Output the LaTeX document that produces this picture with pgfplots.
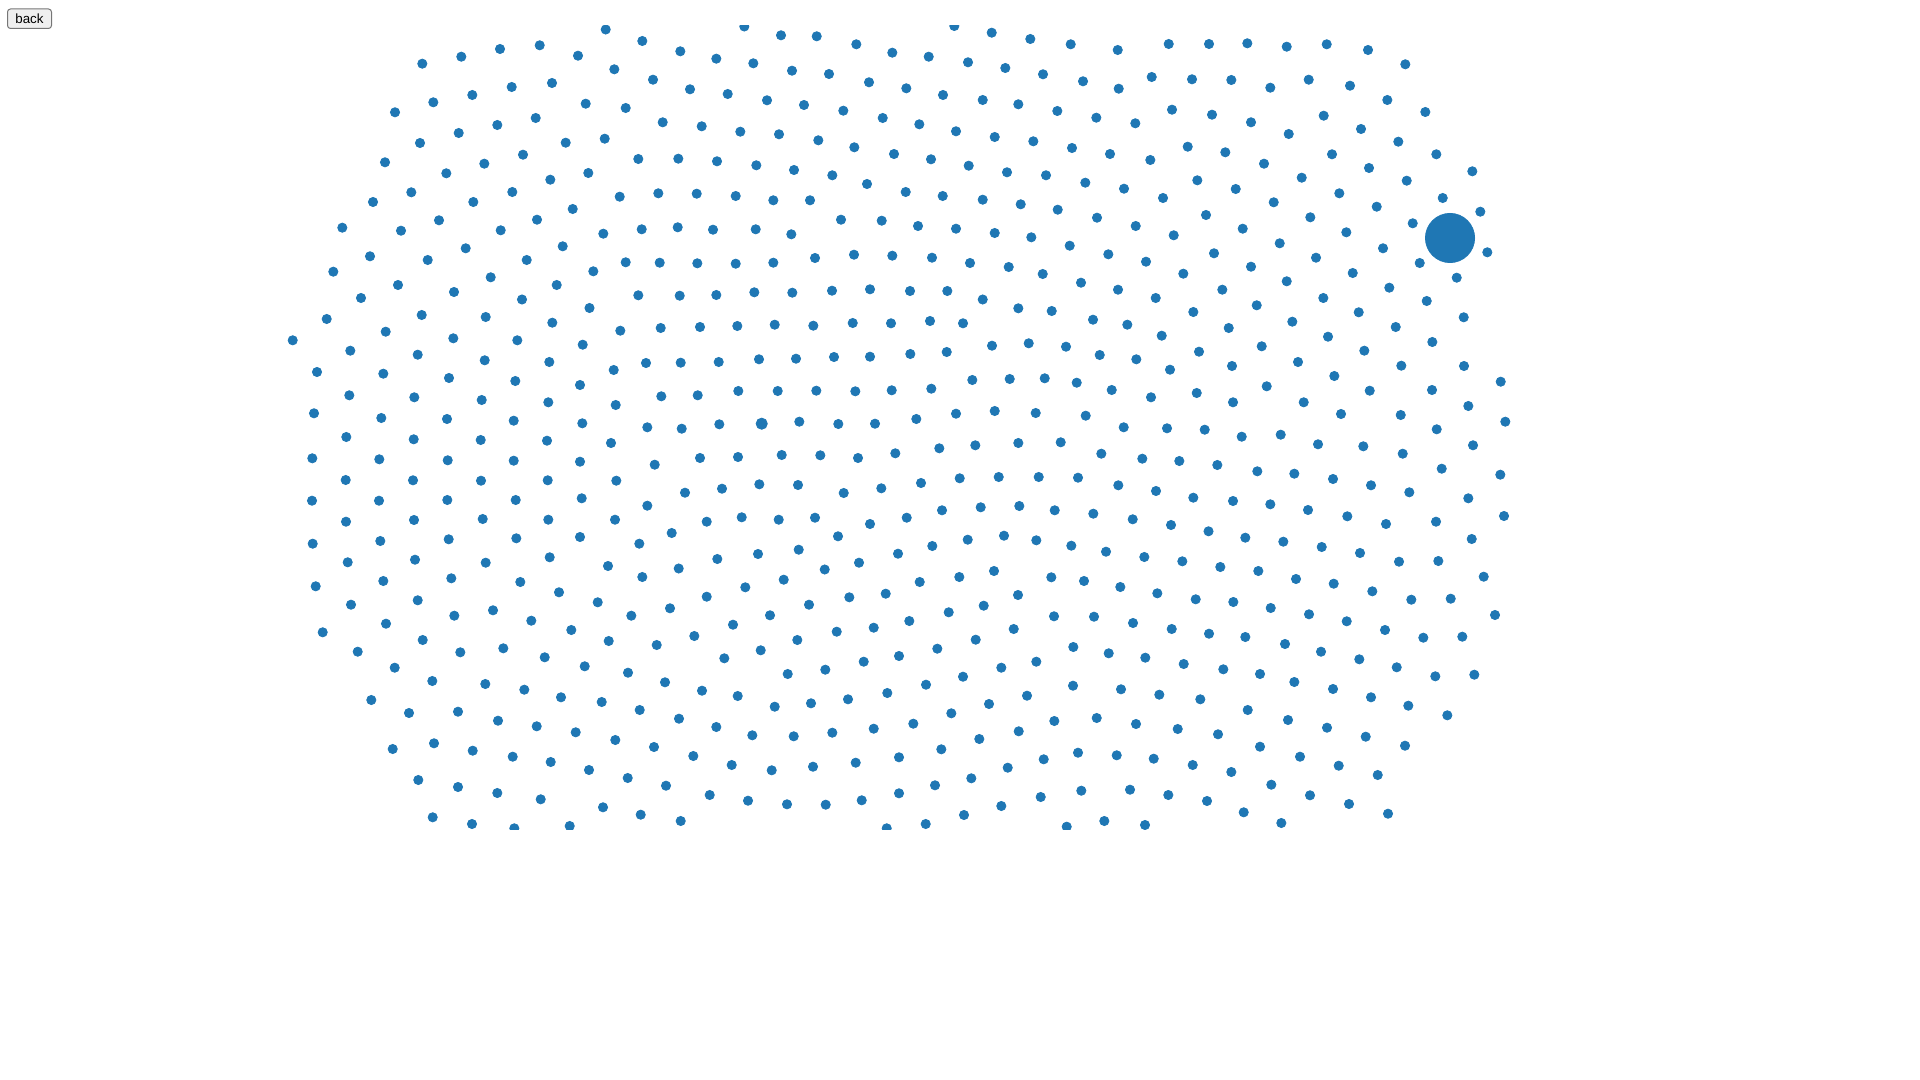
\documentclass[border=0pt]{standalone}
\usepackage{fontspec}
\setmainfont{Liberation Sans}
\usepackage{pgfplots}
\pgfplotsset{compat=1.18}
\definecolor{dotblue}{HTML}{1F77B4}
\definecolor{btnface}{HTML}{EFEFEF}
\definecolor{btnborder}{HTML}{767676}
\begin{document}
\begin{tikzpicture}
\begin{axis}[
  scale only axis, width=960pt, height=401.75pt,
  xmin=0, xmax=1920, ymin=25.5, ymax=829, y dir=reverse,
  hide axis, clip marker paths=true,
]
\addplot[only marks, mark=*, color=dotblue, mark size=2.3pt, line width=0.4pt] table {
x y
422.3 63.7
461.3 56.7
500 49
539.7 45.3
578 55.7
395 112.3
433.3 102.3
472.3 95
511.7 87
552 83
585.7 103.7
420 143
458.7 133
497.3 125
535.7 118
565.7 142.7
385 162.3
446.3 173.3
484.3 163.7
523 154.7
550.3 179.7
588.3 173
373 202
411.3 192.3
473.3 202
512.3 192
572.7 209
342.3 227.7
401 230.7
439 220.3
500.7 230.3
537 219.7
370 256.3
427.7 260
465.7 248.3
526.7 260
562.7 246.3
333.3 271.7
398 285
454 292
490.7 277.3
556.7 285
593.3 271.3
361 298
522 299.5
605.7 29.5
744.3 26.5
642.3 41
680.3 51.3
716.3 58.7
753.3 63.3
792 70.7
829 74
869 82.3
781 35.3
816.7 36.3
856.3 44.3
892.3 52.7
614.3 69.3
653 79.7
690 89.3
727.7 94
767 100.3
804 105
843.3 110.7
882.7 118
625.7 108
662.7 122.3
701.7 126.3
740.3 131.7
779 134.3
818.3 140.3
854.3 147.3
894 154
604.7 138.7
638.3 159
678.3 158.7
717 161.3
756.3 165.3
794 170
832.3 175.3
867 184
619.7 196.7
658.3 193.3
696.7 193.7
735.7 196
773.3 200.3
810 200.3
841 219.7
881.7 220.7
603.3 233.7
641.7 229.3
677.7 227.3
713 229.7
755.7 229.3
791.3 234.3
625.7 262.3
659.7 262.7
697.3 263.3
735.7 263.7
773.3 262.7
815 258
854 254.7
892.3 255.7
638.3 295.3
679.7 295.7
716.3 295
754.3 292.3
792.3 292.7
832 290.7
870 289.3
954.3 26
991.7 32.7
1030.3 39
1070.7 44.3
1117.7 50
1168.7 44
1209 44
928.7 56.7
968 62.3
1005.3 68
1043 74.3
1083 81.3
1118.7 88.7
1151.7 77
1192 79.3
906.3 88.3
943 95
982.7 100
1018.3 104.3
1057.3 111
1096.3 117.7
1135.3 123.3
1172 109.7
1212 114.7
919.3 124.3
956 131.3
994.7 137
1033.3 141.3
1072 148
1110 154
1150.3 160
1187.7 146.7
931 159.3
968.7 165.7
1007 172.3
1046 175.3
1085.3 182.7
1124 188.7
1163 198
1197.3 180.3
905.7 192
942.7 196
982.7 199.7
1020.7 204.3
1057.7 209.7
1097 217.7
1135.7 226
1173.7 235.3
1206 215
918 226
956 228.7
994.7 233
1031.3 237.3
1069.7 245.7
1108.3 254.3
1146 261.7
1183.3 273.7
1214 253.3
932 257.7
970 263
1008.7 267
1042.7 274
1081 282.7
1118 289.7
1155.7 298
910 291
947.3 291
982.7 299.5
1247.3 43.3
1286.7 46.7
1326.7 44.3
1368 50
1405.3 64.3
1231.3 80
1270.3 87.7
1308.7 79.7
1350 85.7
1387.3 100
1425.3 112
1251 122.3
1288.7 134
1323.7 115.7
1361 129
1398.3 141.7
1436.3 154.3
1472.3 171.3
1225.3 152.3
1264 163.7
1301.7 177.7
1332 154.3
1369 168
1406.7 180.7
1442.7 198
1480.3 211.7
1235.7 189
1273.7 202.3
1310.3 217.3
1339.3 193.3
1376.7 206.7
1412.7 223.3
1487.3 252.3
1242.7 228.7
1279.7 243.3
1346.3 232.3
1383 248.3
1419.7 263
1456.7 277.7
1251 266.7
1316 257.7
1352.7 273
1389.3 287.7
1426.7 301
1222.3 289.7
1286.7 281.3
1323.3 298
326.7 319
421.7 315
485.7 317
552.3 322.7
589.5 308
292.7 340.3
385.7 331.7
453.3 338.3
517.3 340.3
582.7 344.7
350.3 350.7
417.7 354.7
484.7 360.3
549.3 362
317 372
383.3 373.7
449 378
515.3 381
580 385
349.3 395.3
414.3 397.3
481.7 400
548.3 402.3
314 413.3
381.3 418
447 419
513.7 420.7
582.3 423.3
346.3 437
413.7 439.3
480.7 440
547 440.7
312.3 458.3
379.3 459.3
447.7 460.3
513.7 460.7
580 461.7
345.7 480
413 480.3
481 480.7
547.7 480.3
312 500.7
379 500.7
447.3 500
515.7 500
581.7 498.3
346 521.7
414 520
482.7 519
548.3 519.7
312.7 543.7
380.3 541
448.7 539.3
516.3 538.3
580 537
347.7 562.3
415 559.7
485.7 562.7
549.7 557.3
620.3 330.7
660.7 328
700 327
737.3 326
774.7 324.7
813.3 325.7
852.7 323
891 323.3
613.7 370
646 363
680.7 362.7
718.7 362
759 359.3
796 358.7
834 357
870 356.7
615.7 405
661.3 396.3
697.7 395.3
738.3 391
777.7 391
816.3 390.7
855.3 391.3
891.7 390.3
647.3 427.3
681.7 428.7
719.3 424.3
799.3 421.7
838.3 424
875 423.7
611 443
654.7 464.7
700 458
738 457
781.7 455
820.3 455.3
858 458
895.3 453.3
616.3 480.7
685 492.7
722 488.7
759.3 484.3
798 485
843.7 493
881.3 488.3
647.3 505.7
615 519.7
706.7 521.7
741.7 517.3
778.7 519.7
815 517.7
870 524
838 536.3
671.7 533
639.3 543.7
608 566
678.7 568.5
717.3 559
758 554
798.7 549.7
859 562.7
824.7 569.5
898 553.7
1018.3 308.3
1051.7 311
1093 319.7
1127.3 324.7
1193.3 312
930 321
963 323.3
910.3 354
946.7 352
992 345.7
1028.7 343.3
1066 346.7
1099.7 355
1136.3 359.3
1161.7 335.7
1199 351.7
931.3 388.7
972.3 380
1009.7 379
1044.7 378.3
1076.7 382.7
1111.7 390
1151 397.3
1170 369.7
1196.7 393
916.3 419
956 413.7
994.7 411
1035.7 413
1085.7 415.7
1123.7 427.3
1167 428.3
1204.7 429.7
939.3 448.3
975.3 445.3
1018.3 443
1060.7 442.3
1101.3 453.7
1142.3 458.7
1179.3 461
921 483
959.7 478.3
998.7 477
1038.7 477
1078 477.7
1118.3 485.3
1156 491
1193.3 497.7
906.7 517.7
942 510.3
980.7 507.3
1019.3 506
1054.7 510.3
1093.3 513.7
1132.7 519.3
1171 525
1208.5 531.3
932.3 546
967.7 539.7
1004 535.7
1036.3 540.3
1071.3 545.7
1106 551.7
1144.3 557
1182.3 561.3
994 571
1256.7 305.3
1358.7 312.3
1463.7 317.3
1228.7 328
1292.3 321.7
1328 336.7
1395.7 327
1432.3 342
1261.7 346.3
1298 362
1364.3 350.7
1232 366
1334.3 376
1401.3 365.7
1464 366
1500.7 381.7
1266.7 386.3
1369.7 390.7
1432 390
1233 402.3
1303.7 402.3
1341 414
1400.7 415
1468.3 406
1505.3 421.7
1241.7 436.7
1280.7 434.7
1318 444.3
1363.3 446.3
1402.7 453.7
1436.7 429.3
1473 445.3
1217.3 465
1257.3 471.3
1294.3 473.7
1333 479
1371 485.3
1409.3 492.3
1441.7 468.7
1500.3 474.7
1233 501
1270.3 504.3
1308 510
1347.3 516.3
1386 524
1436 521.7
1468.3 498.3
1504 516
1245.3 537.7
1283.3 541.7
1321.7 547
1360 553
1399 561.7
1438.3 561
1471.7 539
1220.3 567
1258.3 571
315.7 586.3
383.3 581
451.3 578.3
520.3 582
559 592.3
351 604.7
417.7 600.3
454.3 615.7
493 610.3
531.3 620.7
571.3 630
322.7 632.3
386 623.7
422.7 640
460.3 652.3
503.3 648.3
544.7 657.3
584.7 666.3
357.7 651.7
394.7 667.7
432.3 681
485.3 684
524.3 689.7
561 697.3
371.3 700
409 713
458 711.7
498 720.7
536.7 726.3
575.7 732.3
392.7 749
434 743.3
472.7 750.7
512.7 756.7
550.7 762
589 770
418.3 780
458 787
497.3 793
540.7 799.3
432.7 817.3
472 824
514.3 828.3
569.7 826
642.3 577
745.3 587.3
783.7 579.7
597.7 602.3
631.3 615.7
670 608.3
706.7 596.7
770 615.3
809 604.7
849.3 597.3
885.7 593.7
608.7 641
656.7 645
694.3 636
733 624.7
760.7 650.3
797.3 640
836.7 631.7
873.7 627.7
724.3 658.3
787.7 674
825.3 669.7
863.7 661.7
899 656
628 672.7
665 682.3
702 690.7
737.7 696
774.7 706.7
811 703.3
848 699.3
887.3 693
601.7 702
639.7 710
679 718.7
716.3 727
752.3 735.3
793.7 736.3
832.3 732.7
873.7 728.7
615.3 740
654 747
693.3 756
731.7 765
771.7 770.3
813 766.7
855.7 762.7
899 757.3
627.7 778
666 785.7
709.7 795
748 800.7
787 804.3
825.7 804.7
861.7 800.3
899 793.3
603 807.3
640.7 814.7
680.7 821
886.7 828.3
919.7 582
959.3 577
1018 595
1051.3 577.3
1084 581
1120.3 587
1157.3 593.3
1195.7 599.3
909.3 621
948.7 612.3
983.7 605.7
1013.7 629
1054 616.3
1094 616.7
1133 623
1171.7 629
1209 633.7
937.3 648.7
975.7 639.7
1001.3 667.7
1036.3 661.7
1073.3 647
1108.7 653.3
1145.3 657.7
1183.7 664
926 684.7
963 676.7
1027 695.7
1073 685.7
1121 689.3
1159.3 694.7
1200.3 699.3
913.3 723.7
951.3 713.3
989 704
1018.7 731.3
1054.3 721
1096.7 718
1136 724
1177.7 729
941.3 749.3
979.3 739
1007.7 767.7
1043.7 759.3
1078 752.7
1116.7 755.3
1153.7 758.7
1192.7 765
935 785.3
971.3 778.3
1001.3 806
1040.7 797
1081.3 790.7
1130 789.7
1168.3 795
1207 801
925.7 824
964 815
1066.7 826.7
1104.3 821
1145 825
1296 579
1333.7 583.7
1372.3 591.3
1411.3 599.7
1450.7 598.7
1483.7 576.7
1495 615
1233.3 602
1270.7 608
1309 614.3
1346.7 621.3
1385 630
1423.3 637.7
1462.3 636.7
1245.3 637
1285 644
1321 651.7
1359.3 659.3
1396.7 667.3
1435.3 676.3
1474.3 674.7
1223.3 669.3
1260 674
1294.3 682
1333 689
1371 697.3
1408.3 705.7
1447.3 715.3
1247.7 710
1288 720
1327 727.7
1365.7 736.7
1405 745.7
1218 734.3
1260 746.7
1300 756.7
1338.7 765.7
1377.7 775
1231.3 772
1271.3 784.7
1310 795.3
1349 804
1388 813.7
1243.7 812.3
1281.3 823
};
\addplot[only marks, mark=*, color=dotblue, mark size=2.8pt, line width=0.4pt] coordinates {(761.7,423.7)};
\addplot[only marks, mark=*, color=dotblue, mark size=12.3pt, line width=0.4pt] coordinates {(1450,238)};
\coordinate (TL) at (axis cs:0,0);
\coordinate (BR) at (axis cs:1920,1080);
\end{axis}
\path[use as bounding box] (TL) rectangle (BR);
\begin{scope}[shift={(TL)}, x=0.5pt, y=-0.5pt]
\draw[fill=btnface, draw=btnborder, line width=0.5pt, rounded corners=1.5pt] (7.5,9) rectangle (51.5,28.5);
\node[font=\fontsize{6.67}{8}\selectfont, text=black, inner sep=0pt] at (29.5,18.75) {back};
\end{scope}
\end{tikzpicture}
\end{document}
